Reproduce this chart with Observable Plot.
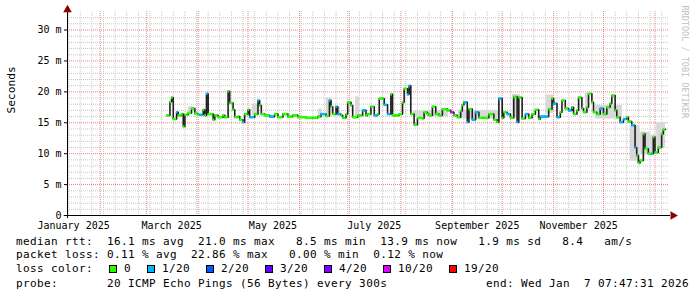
<!DOCTYPE html>
<html><head><meta charset="utf-8">
<script src="https://cdn.jsdelivr.net/npm/d3@7"></script>
<script src="https://cdn.jsdelivr.net/npm/@observablehq/plot@0.6"></script>
<style>
body{margin:0;background:#fff;}
#wrap{position:relative;width:697px;height:297px;overflow:hidden;background:#fff;font-family:"DejaVu Sans Mono",monospace;}
#chart{position:absolute;left:0;top:0;}
.lg{position:absolute;font-size:11px;letter-spacing:0.38px;white-space:pre;line-height:12px;color:#000;}
.sw{position:absolute;width:8px;height:8px;box-sizing:border-box;border:1px solid #000;}
</style></head><body><div id="wrap"><div id="chart"></div></div>
<script>
// ---- data ----
// day of year 2025 (0 = 1 Jan 2025) for each median sample
const days = [71,73,74,75,77,78,80,81,82,84,86,88,90,91,93,94,95,96,99,100,102,105,106,108,109,111,112,114,115,117,118,120,121,124,126,127,128,130,133,136,138,141,144,147,150,155,159,162,164,167,169,170,171,173,174,176,177,179,180,182,183,186,189,191,192,194,195,196,198,199,202,204,206,207,209,211,213,214,216,217,218,220,222,225,226,228,229,231,233,235,237,240,242,244,246,248,249,250,252,253,255,257,259,262,265,268,270,271,273,274,276,278,280,282,283,285,287,289,291,293,295,296,299,301,303,304,306,308,309,311,313,315,316,318,319,321,322,324,325,327,328,330,332,334,336,338,339,341,342,344,346,348,349,351,353,354,355,356,358,359,361,363,364,365,367,369,370];
// median round-trip time, ms
const medianMs = [16.2,18.4,19.1,15.6,16.7,16.2,16.4,14.4,16.3,16.6,17.3,16.5,16.3,16.3,17.1,16.2,19.7,16.4,15.5,16.2,15.9,16.2,15.9,20.1,18.2,17.1,15.9,16.0,15.5,15.1,16.4,17.1,15.9,16.4,18.6,17.8,16.4,16.2,16.0,16.4,15.9,16.4,16.0,16.2,15.9,15.8,15.8,16.0,16.4,16.1,18.6,17.6,16.4,17.6,16.4,16.2,15.8,16.4,18.3,17.8,15.9,16.2,17.0,16.2,16.4,17.6,17.6,16.2,16.4,18.9,17.9,16.4,19.6,16.2,16.2,16.4,18.3,20.5,19.6,21.0,16.4,14.7,15.8,15.7,16.7,16.4,16.2,17.6,16.4,16.2,17.2,17.0,16.7,16.2,15.9,16.9,17.9,18.3,15.1,17.2,15.5,16.7,15.8,15.8,16.4,15.5,15.1,18.9,15.8,16.7,16.4,15.8,19.2,15.1,19.1,15.7,16.4,15.8,16.4,17.1,15.6,16.0,16.0,17.2,18.9,18.1,15.9,16.7,18.6,17.3,17.0,17.5,16.4,17.0,19.1,17.3,16.7,17.5,19.7,18.3,16.7,16.4,17.3,16.4,17.5,18.1,19.4,17.0,15.9,15.1,15.6,15.9,15.2,14.6,11.0,9.7,8.5,8.9,13.2,10.8,10.0,10.0,12.7,10.2,11.0,13.2,13.9];
// lost pings out of 20 for each sample
const lostPings = [0,0,0,0,1,0,0,0,0,0,0,0,0,1,0,0,1,0,0,0,0,0,0,0,0,0,0,0,0,1,0,0,1,0,1,0,0,0,1,0,0,0,0,0,0,0,0,0,1,0,1,0,0,1,1,0,0,0,0,0,0,0,1,0,0,0,0,1,0,0,1,1,0,0,0,0,0,0,1,1,0,0,0,0,0,0,0,0,0,0,0,0,10,0,0,0,0,1,1,0,1,1,0,0,0,0,0,1,0,0,1,0,0,1,0,0,1,0,0,0,0,1,1,0,0,1,1,0,0,0,1,0,0,0,0,0,0,0,0,0,0,0,1,0,0,0,0,0,0,1,1,0,0,1,1,0,0,0,0,0,0,1,0,0,0,0,0,1];
// smoke (spread of the 20 pings): day range and ms range
const smokeFrom = [84,122.7,162.4,167.2,173.2,184.7,219.6,246.7,279.2,299.7,323.1,329.2,350,356,362,366];
const smokeTo   = [86.5,126.3,164.8,170.8,175.6,187.1,240.7,272,284,303.9,325.5,345.4,356,362,366,371.3];
const smokeLo   = [16.3,16.2,16.0,16.2,16.2,16.0,16.0,15.6,15.8,16.5,17.0,15.6,8.8,9.8,10.0,11.0];
const smokeHi   = [17.6,18.0,17.2,19.0,17.6,19.2,16.9,17.0,19.6,19.5,19.8,17.8,14.5,13.5,13.0,15.0];
// legend
const lossLevels = ["0","1/20","2/20","3/20","4/20","10/20","19/20"];
const lossColors = ["#26ff00","#00b8ff","#0059ff","#5e00ff","#7e00ff","#dd00ff","#ff0000"];
const yTicks = [0,5,10,15,20,25,30];
const monthLabels = ["2025-01-16","2025-03-16","2025-05-16","2025-07-16","2025-09-16","2025-11-16"];
const statsLine = "median rtt:  16.1 ms avg  21.0 ms max   8.5 ms min  13.9 ms now   1.9 ms sd   8.4   am/s";
const lossLine = "packet loss: 0.11 % avg  22.86 % max   0.00 % min  0.12 % now";
const probeLine = "probe:       20 ICMP Echo Pings (56 Bytes) every 300s";
const endLine = "end: Wed Jan  7 07:47:31 2026";
const yLabel = "Seconds";
const watermark = "RRDTOOL / TOBI OETIKER";

// ---- build ----
const t0 = Date.UTC(2025,0,1);
const toDate = d => new Date(t0 + d*864e5);
const xStart = new Date(Date.UTC(2025,0,12,7,47,31));
const xEnd = new Date(Date.UTC(2026,0,7,7,47,31));
const lossLabel = n => n === 0 ? "0" : n + "/20";
const pts = days.map((d,i) => ({date: toDate(d), next: i < days.length-1 ? toDate(days[i+1]) : xEnd, v: medianMs[i], loss: lossLabel(lostPings[i])}));
const linePts = [...pts, {date: xEnd, v: medianMs[medianMs.length-1]}];
const smoke = smokeFrom.map((f,i) => ({x1: toDate(f), x2: toDate(smokeTo[i]), y1: smokeLo[i], y2: smokeHi[i]}));
const minorY = d3.range(1,33).filter(v => v % 5 !== 0);
const majorY = yTicks.filter(v => v > 0);
const weeks = d3.utcMonday.range(xStart, xEnd);
const months = d3.utcMonth.range(xStart, xEnd);
const dayMs = 864e5;

const chart = Plot.plot({
  width: 697, height: 232,
  marginLeft: 67, marginRight: 32, marginTop: 11, marginBottom: 17,
  x: {type: "utc", domain: [xStart, xEnd]},
  y: {domain: [0, 33]},
  color: {domain: lossLevels, range: lossColors},
  style: {fontFamily: "DejaVu Sans Mono", fontSize: "10px", background: "white", color: "black"},
  marks: [
    Plot.ruleY(minorY, {stroke: "#c8c8c8", strokeDasharray: "1,1", x1: xStart, x2: new Date(+xEnd + 2*dayMs)}),
    Plot.ruleX(weeks, {stroke: "#c8c8c8", strokeDasharray: "1,1"}),
    Plot.ruleY(majorY, {stroke: "#ee8080", strokeDasharray: "1,1", x1: xStart, x2: new Date(+xEnd + 2*dayMs)}),
    Plot.ruleX(months, {stroke: "#ee8080", strokeDasharray: "1,1"}),
    Plot.rect(smoke, {x1: "x1", x2: "x2", y1: "y1", y2: "y2", fill: "#d8d8d8"}),
    Plot.line(linePts, {x: "date", y: "v", curve: "step-after", stroke: "#202020", strokeWidth: 1.6}),
    Plot.ruleY(pts, {y: "v", x1: "date", x2: "next", stroke: "loss", strokeWidth: 2.6}),
    Plot.ruleY([0], {x1: new Date(+xStart - 2*dayMs), x2: new Date(+xEnd + 3*dayMs), stroke: "black"}),
    Plot.ruleX([xStart], {y1: -0.5, y2: 33, stroke: "black"}),
    Plot.dot([{x: new Date(+xEnd + 4.5*dayMs), y: 0}], {x: "x", y: "y", symbol: "triangle", r: 3.2, rotate: 90, fill: "#8b0000", stroke: null}),
    Plot.dot([{x: xStart, y: 33.3}], {x: "x", y: "y", symbol: "triangle", r: 3.2, fill: "#8b0000", stroke: null}),
    Plot.axisY(yTicks, {tickSize: 3, tickPadding: 3, tickFormat: d => d === 0 ? "0" : d + " m", label: null}),
    Plot.axisX(monthLabels.map(s => new Date(s)), {tickSize: 0, tickPadding: 6, tickFormat: d3.utcFormat("%B %Y"), label: null}),
    Plot.text([yLabel], {frameAnchor: "left", rotate: -90, dx: -56, fontSize: 11.2}),
    Plot.text([watermark], {frameAnchor: "top-right", rotate: 90, textAnchor: "start", dx: 23, dy: -6, fill: "#c0c0c0", fontSize: 8.5})
  ]
});
document.getElementById("chart").appendChild(chart);

// ---- legend (HTML text) ----
const wrap = document.getElementById("wrap");
function addText(txt, left, top, right) {
  const el = document.createElement("div");
  el.className = "lg";
  el.textContent = txt;
  el.style.top = top + "px";
  if (right != null) el.style.right = right + "px"; else el.style.left = left + "px";
  wrap.appendChild(el);
}
addText(statsLine, 16, 235.5);
addText(lossLine, 16, 249.2);
addText("loss color:", 16, 263.2);
let xp = 109;
lossLevels.forEach((lv, i) => {
  const sw = document.createElement("div");
  sw.className = "sw";
  sw.style.left = xp + "px";
  sw.style.top = "265px";
  sw.style.background = lossColors[i];
  wrap.appendChild(sw);
  addText(lv, xp + 15, 263.2);
  xp += 15 + lv.length * 7 + 16;
});
addText(probeLine, 16, 277.5);
addText(endLine, null, 277.5, 8);
</script></body></html>
